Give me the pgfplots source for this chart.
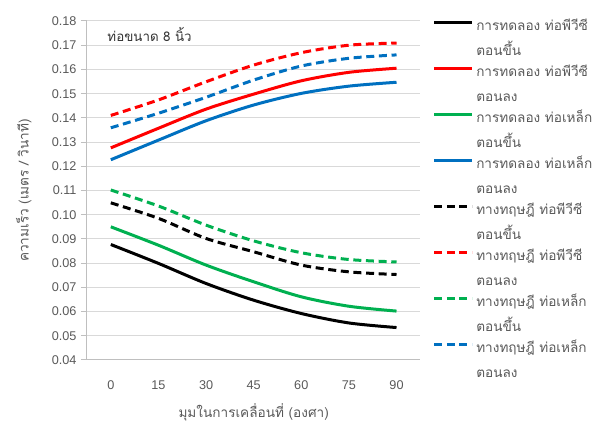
\documentclass[border=0pt]{standalone}
\usepackage{pgfplots}
\pgfplotsset{compat=1.18}
\usepackage{fontspec}
\setmainfont{Liberation Sans}
\newfontfamily\thaifont[Script=Thai]{Loma}
\definecolor{cgreen}{HTML}{00B050}
\definecolor{cblue}{HTML}{0070C0}
\definecolor{cred}{HTML}{FF0000}
\definecolor{txt}{HTML}{595959}
\definecolor{gridc}{HTML}{D9D9D9}
\definecolor{axc}{HTML}{BFBFBF}
\tikzset{l2/.style={text height=10.5pt, text depth=2.5pt}}
\begin{document}
\fontsize{9.5}{11}\selectfont
\begin{tikzpicture}
\useasboundingbox (-65.25pt,-48.75pt) rectangle (385.5pt,270pt);
\begin{axis}[
  at={(0,0)}, anchor=south west,
  scale only axis, width=250pt, height=254.25pt,
  xmin=-7.5, xmax=97.5, ymin=0.04, ymax=0.18,
  xtick={0,15,30,45,60,75,90},
  ytick={0.04,0.05,0.06,0.07,0.08,0.09,0.10,0.11,0.12,0.13,0.14,0.15,0.16,0.17,0.18},
  axis x line*=bottom, axis y line*=left,
  axis line style={color=axc, line width=0.75pt, -},
  ymajorgrids, grid style={color=gridc, line width=0.75pt},
  tick align=outside, major tick length=4.5pt,
  xtick style={draw=none}, ytick style={color=axc, line width=0.75pt},
  ticklabel style={color=txt, font=\fontsize{9.5}{11}\selectfont},
  /pgf/number format/assume math mode=true,
  yticklabel style={/pgf/number format/fixed, /pgf/number format/fixed zerofill, /pgf/number format/precision=2},
  xticklabel style={yshift=-7.75pt},
  xlabel={\thaifont มุมในการเคลื่อนที่ (องศา)},
  ylabel={\thaifont ความเร็ว (เมตร / วินาที)},
  label style={color=txt, font=\fontsize{10.2}{12}\selectfont},
  xlabel style={at={(axis description cs:0.5,-0.154)}, anchor=center},
  ylabel style={at={(axis description cs:-0.19,0.5)}, anchor=center},
  legend style={at={(axis description cs:1,1)}, anchor=north west, xshift=9pt, yshift=2.25pt,
    draw=none, fill=none, inner sep=0pt, row sep=2.25pt,
    nodes={text height=7pt, text depth=2pt, inner sep=2pt, text=txt, anchor=west},
    font=\thaifont\fontsize{10.2}{12}\selectfont},
  legend cell align=left,
  legend image code/.code={\draw[#1] (0pt,3pt) -- (28.5pt,3pt);},
  every axis plot/.append style={line width=2.25pt, smooth, tension=0.5, mark=none},
  dsh/.style={dash pattern=on 6pt off 3.5pt},
]
\addplot[black] coordinates {(0,0.0877)(15,0.0799)(30,0.0716)(45,0.0647)(60,0.0592)(75,0.0553)(90,0.0534)};
\addlegendentry{การทดลอง ท่อพีวีซี}
\addlegendimage{empty legend}\addlegendentry[l2]{ตอนขึ้น}
\addplot[cred] coordinates {(0,0.1276)(15,0.1357)(30,0.1436)(45,0.1498)(60,0.1553)(75,0.1588)(90,0.1605)};
\addlegendentry{การทดลอง ท่อพีวีซี}
\addlegendimage{empty legend}\addlegendentry[l2]{ตอนลง}
\addplot[cgreen] coordinates {(0,0.0950)(15,0.0874)(30,0.0792)(45,0.0723)(60,0.0661)(75,0.0622)(90,0.0602)};
\addlegendentry{การทดลอง ท่อเหล็ก}
\addlegendimage{empty legend}\addlegendentry[l2]{ตอนขึ้น}
\addplot[cblue] coordinates {(0,0.1227)(15,0.1308)(30,0.1388)(45,0.1453)(60,0.1501)(75,0.1531)(90,0.1547)};
\addlegendentry{การทดลอง ท่อเหล็ก}
\addlegendimage{empty legend}\addlegendentry[l2]{ตอนลง}
\addplot[black, dsh] coordinates {(0,0.1049)(15,0.0985)(30,0.0902)(45,0.0847)(60,0.0792)(75,0.0764)(90,0.0753)};
\addlegendentry{ทางทฤษฎี ท่อพีวีซี}
\addlegendimage{empty legend}\addlegendentry[l2]{ตอนขึ้น}
\addplot[cred, dsh] coordinates {(0,0.1410)(15,0.1474)(30,0.1549)(45,0.1618)(60,0.1669)(75,0.1700)(90,0.1709)};
\addlegendentry{ทางทฤษฎี ท่อพีวีซี}
\addlegendimage{empty legend}\addlegendentry[l2]{ตอนลง}
\addplot[cgreen, dsh] coordinates {(0,0.1102)(15,0.1036)(30,0.0957)(45,0.0892)(60,0.0843)(75,0.0815)(90,0.0805)};
\addlegendentry{ทางทฤษฎี ท่อเหล็ก}
\addlegendimage{empty legend}\addlegendentry[l2]{ตอนขึ้น}
\addplot[cblue, dsh] coordinates {(0,0.1359)(15,0.1419)(30,0.1485)(45,0.1556)(60,0.1614)(75,0.1646)(90,0.1660)};
\addlegendentry{ทางทฤษฎี ท่อเหล็ก}
\addlegendimage{empty legend}\addlegendentry[l2]{ตอนลง}
\node[anchor=west, text=black!80, font=\thaifont\fontsize{10}{12}\selectfont] at (rel axis cs:0.048,0.959) {ท่อขนาด 8 นิ้ว};
\end{axis}
\end{tikzpicture}
\end{document}
